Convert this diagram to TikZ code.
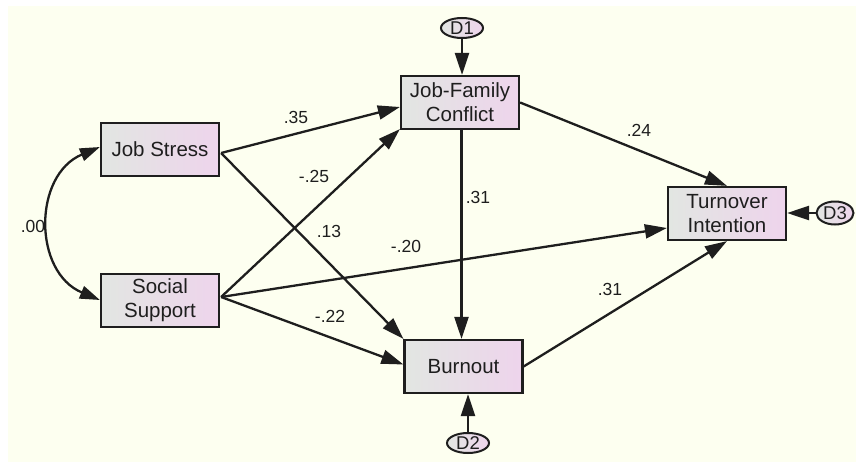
\documentclass[tikz,border=0pt]{standalone}
\usepackage{fontspec}
\setmainfont{Liberation Sans}
\usetikzlibrary{arrows.meta,calc,shapes.geometric}
\definecolor{bgcream}{RGB}{253,255,240}
\definecolor{boxL}{RGB}{226,230,226}
\definecolor{boxR}{RGB}{238,212,236}
\definecolor{inkc}{RGB}{30,30,30}
\tikzset{
  varbox/.style={draw=inkc, line width=2.2pt, minimum width=118pt, minimum height=53pt,
    left color=boxL, right color=boxR, align=center, inner sep=0pt,
    font=\fontsize{20.5}{24}\selectfont, text=inkc},
  errnode/.style={draw=inkc, ellipse, line width=2pt, minimum width=42pt, minimum height=20pt,
    left color=boxL, right color=boxR, inner sep=0pt, font=\fontsize{18.5}{18.5}\selectfont, text=inkc},
  path/.style={draw=inkc, line width=2.3pt, -{Triangle[length=22pt,width=14pt]}},
  coef/.style={font=\fontsize{17.5}{17.5}\selectfont, text=inkc, inner sep=0pt}
}
\begin{document}
\begin{tikzpicture}[x=1pt,y=-1pt]
\useasboundingbox (0,0) rectangle (856,463);
\fill[bgcream] (8,6) rectangle (856,462);
% variables
\node[varbox] (JS)  at (160,149.5) {Job Stress};
\node[varbox] (SS)  at (160,300.5) {Social\\Support};
\node[varbox] (JFC) at (460,102.5) {Job-Family\\Conflict};
\node[varbox] (TI)  at (727,213.5) {Turnover\\Intention};
\node[varbox] (BO)  at (463.5,366.5) {Burnout};
% errors
\node[errnode] (D1) at (462,28) {D1};
\node[errnode] (D2) at (468,443) {D2};
\node[errnode, minimum width=37pt, minimum height=23pt] (D3) at (835,213) {D3};
% anchor points
\coordinate (jsout) at ($(JS.east)+(1,3.5)$);
\coordinate (ssout) at ($(SS.east)+(1,-3.5)$);
% paths
\draw[path] (jsout) -- ($(JFC.west)+(0,4.5)$);
\draw[path] (jsout) -- (BO.north west);
\draw[path] (ssout) -- ($(JFC.south west)+(0,-1)$);
\draw[path] (ssout) -- ($(TI.west)+(0,14.5)$);
\draw[path] (ssout) -- ($(BO.west)+(0,-2)$);
\draw[path] ($(JFC.south)+(1.5,0)$) -- ($(BO.north)+(-2,0)$);
\draw[path] (JFC.east) -- (TI.north);
\draw[path] (BO.east) -- (TI.south);
\draw[path] (D1.south) -- (JFC.north -| D1.south);
\draw[path] (D2.north) -- (BO.south -| D2.north);
\draw[path] (D3.west) -- (TI.east |- D3.west);
% covariance
\draw[draw=inkc, line width=2.3pt, {Triangle[length=20pt,width=13pt]}-{Triangle[length=20pt,width=13pt]}]
  ($(JS.west)+(0,-2.5)$) .. controls +(-67,28) and +(-67,-28) .. ($(SS.west)+(0,-0.5)$);
% coefficients
\node[coef] (c1) at (296,117) {.35};
\node[coef] (c2) at (314,176) {-.25};
\node[coef] (c3) at (329,231) {.13};
\node[coef] (c4) at (406,246) {-.20};
\node[coef] (c5) at (330,316) {-.22};
\node[coef] (c6) at (478,197) {.31};
\node[coef] (c7) at (639,130) {.24};
\node[coef] (c8) at (610,289) {.31};
\node[coef] (c9) at (33,226) {.00};
\end{tikzpicture}
\end{document}
